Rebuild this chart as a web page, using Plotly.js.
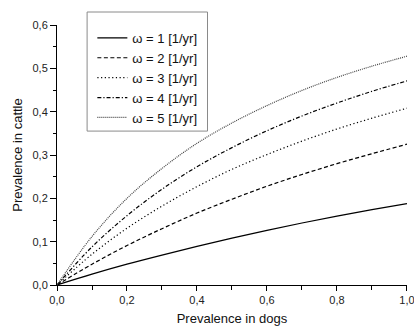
<!DOCTYPE html>
<html>
<head>
<meta charset="utf-8">
<script src="https://cdn.plot.ly/plotly-3.0.1.min.js"></script>
<style>
  html, body { margin: 0; padding: 0; background: #fff; }
  #chart { width: 414px; height: 327px; }
</style>
</head>
<body>
<div id="chart"></div>
<script>
// Prevalence in dogs (x)
const dogs = [0, 0.1, 0.2, 0.3, 0.4, 0.5, 0.6, 0.7, 0.8, 0.9, 1.0];

// Prevalence in cattle for each omega
const omega1 = [0, 0.025, 0.048, 0.069, 0.089, 0.108, 0.126, 0.143, 0.159, 0.174, 0.188];
const omega2 = [0, 0.048, 0.091, 0.130, 0.166, 0.198, 0.228, 0.255, 0.280, 0.303, 0.325];
const omega3 = [0, 0.071, 0.131, 0.182, 0.227, 0.267, 0.301, 0.332, 0.360, 0.385, 0.408];
const omega4 = [0, 0.088, 0.160, 0.221, 0.273, 0.317, 0.356, 0.390, 0.420, 0.447, 0.471];
const omega5 = [0, 0.112, 0.200, 0.269, 0.327, 0.374, 0.414, 0.449, 0.479, 0.505, 0.528];

const seriesNames = ["\u03c9 = 1 [1/yr]", "\u03c9 = 2 [1/yr]", "\u03c9 = 3 [1/yr]", "\u03c9 = 4 [1/yr]", "\u03c9 = 5 [1/yr]"];
const seriesValues = [omega1, omega2, omega3, omega4, omega5];
const dashes = ["solid", "4px,2.5px", "1.2px,2.5px", "4px,2px,1.2px,2px", "1px,1px"];
const colors = ["#000", "#000", "#000", "#000", "#444"];

const traces = seriesValues.map((vals, i) => ({
  type: "scatter",
  mode: "lines",
  x: dogs,
  y: vals,
  name: seriesNames[i],
  line: { color: colors[i], width: 1.2, dash: dashes[i], shape: "spline", smoothing: 1 }
}));

const fontFam = "Liberation Sans, Arial, sans-serif";

const layout = {
  width: 414,
  height: 327,
  margin: { l: 57, r: 7, t: 25, b: 42 },
  paper_bgcolor: "#fff",
  plot_bgcolor: "#fff",
  separators: ",.",
  font: { family: fontFam, color: "#222", size: 11 },
  showlegend: true,
  legend: {
    x: 0.101, y: 1.008, xanchor: "left", yanchor: "top",
    bgcolor: "rgba(0,0,0,0)", borderwidth: 0,
    font: { family: fontFam, size: 13, color: "#111" },
    tracegroupgap: 0
  },
  shapes: [{
    type: "rect", xref: "paper", yref: "paper",
    x0: 0.086, x1: 0.43, y0: 0.592, y1: 1.05,
    line: { color: "#8a8a8a", width: 1 }, fillcolor: "rgba(0,0,0,0)"
  }],
  xaxis: {
    range: [0, 1.0001],
    showgrid: false, zeroline: false,
    showline: true, linecolor: "#000", linewidth: 1,
    ticks: "outside", ticklen: 5, tickcolor: "#000", tickwidth: 1,
    dtick: 0.2, tick0: 0, tickformat: ".1f",
    ticklabeloverflow: "allow",
    tickfont: { size: 11, color: "#222" },
    minor: { dtick: 0.1, ticks: "outside", ticklen: 4, tickcolor: "#000", showgrid: false },
    title: { text: "Prevalence in dogs", font: { size: 13, color: "#111" }, standoff: 8 },
    fixedrange: true
  },
  yaxis: {
    range: [0, 0.6],
    showgrid: false, zeroline: false,
    showline: true, linecolor: "#000", linewidth: 1,
    ticks: "outside", ticklen: 6, tickcolor: "#000", tickwidth: 1,
    dtick: 0.1, tick0: 0, tickformat: ".1f",
    tickfont: { size: 11, color: "#222" },
    minor: { dtick: 0.05, ticks: "outside", ticklen: 3, tickcolor: "#000", showgrid: false },
    title: { text: "Prevalence in cattle", font: { size: 13, color: "#111" }, standoff: 6 },
    fixedrange: true
  }
};

Plotly.newPlot("chart", traces, layout, { displayModeBar: false, staticPlot: true });
</script>
</body>
</html>
